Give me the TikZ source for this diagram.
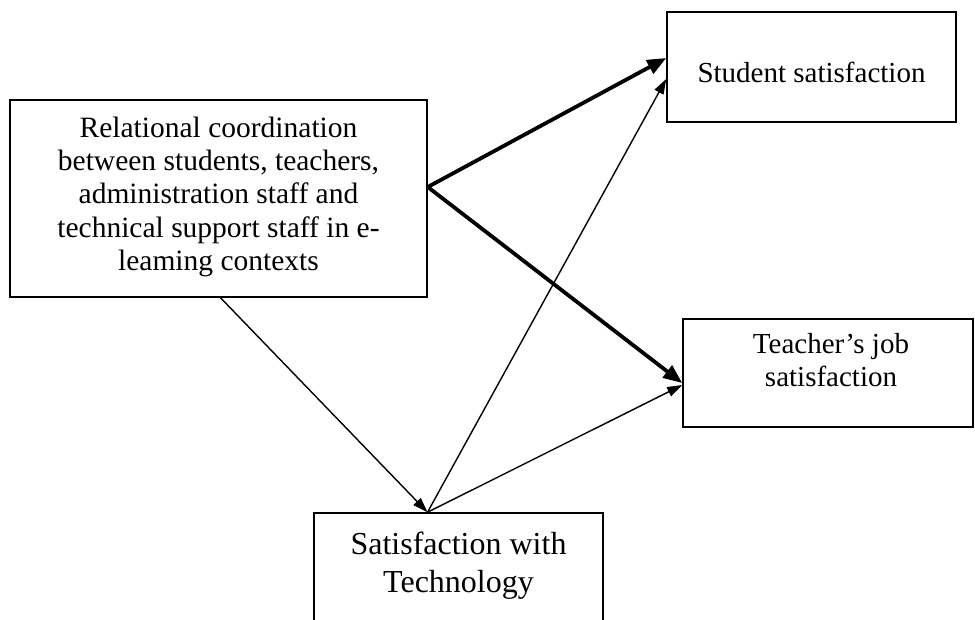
\documentclass[tikz,border=0pt]{standalone}
\usepackage{fontspec}
\setmainfont{Liberation Serif}
\usetikzlibrary{arrows.meta}
\begin{document}
\begin{tikzpicture}[x=1pt,y=-1pt,
  box/.style={draw, line width=1.5pt, rectangle, inner sep=0pt},
  lbl/.style={inner sep=0pt, align=center, font=\fontsize{29}{33.3}\selectfont},
  strong/.style={line width=3.8pt, -{Triangle[length=19pt,width=15pt]}},
  weak/.style={line width=1.4pt, -{Triangle[length=15pt,width=10pt]}}]
\useasboundingbox (0,0) rectangle (975,619);
\clip (0,0) rectangle (975,619);
% boxes
\node[box, minimum width=417pt, minimum height=197pt] (rc) at (218.5,198.5) {};
\node[box, minimum width=289pt, minimum height=110pt] (ss) at (811.5,67) {};
\node[box, minimum width=290pt, minimum height=108pt] (tj) at (828,373) {};
\node[box, minimum width=289pt, minimum height=140pt] (st) at (458.5,583) {};
% texts
\node[lbl, font=\fontsize{29.5}{33.3}\selectfont] (rctext) at (218.5,196.8) {Relational coordination\\between students, teachers,\\administration staff and\\technical support staff in e-\\leaming contexts};
\node[lbl] (sstext) at (811.5,72) {Student satisfaction};
\node[lbl] (tjtext) at (831,360) {Teacher’s job\\satisfaction};
\node[lbl, font=\fontsize{32}{38}\selectfont] (sttext) at (458.5,565.5) {Satisfaction with\\Technology};
% connectors
\coordinate (rcout) at ([yshift=11.5pt]rc.east);
\coordinate (stin) at ([xshift=-31pt]st.north);
\draw[strong] (rcout) -- ([yshift=9pt]ss.west);
\draw[strong] (rcout) -- ([yshift=-10pt]tj.west);
\draw[weak] ([xshift=2pt]rc.south) -- (stin);
\draw[weak] (stin) -- ([yshift=-12pt]ss.west);
\draw[weak] (stin) -- ([yshift=-12pt]tj.west);
\end{tikzpicture}
\end{document}
